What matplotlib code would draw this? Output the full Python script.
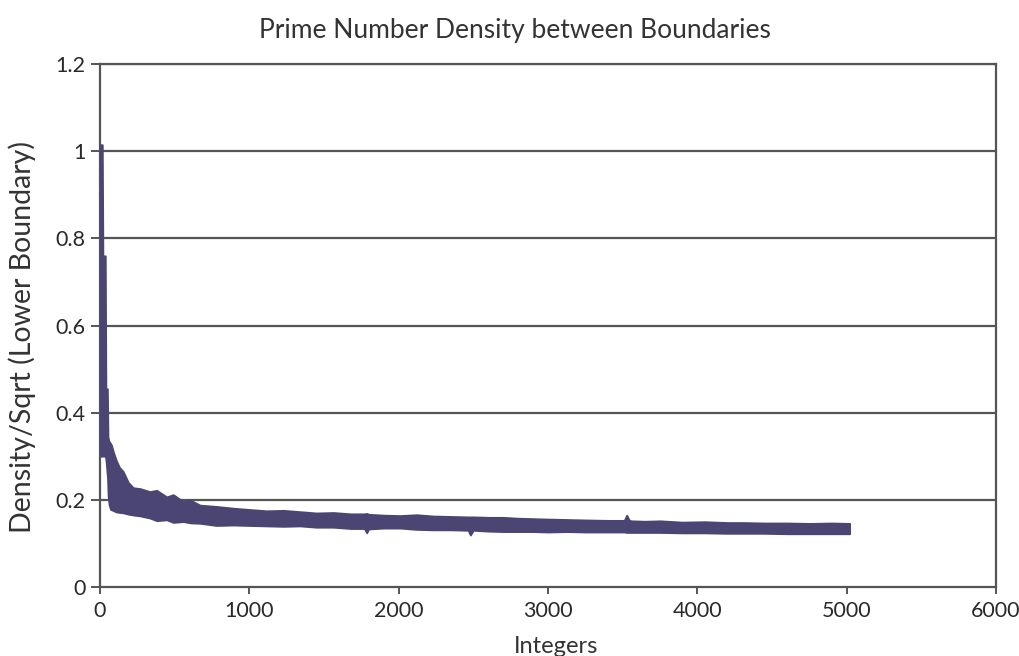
import matplotlib
matplotlib.use("Agg")
import matplotlib.pyplot as plt
import numpy as np

# Envelope of the dense density series
x_int = [0, 4, 16, 20, 36, 40, 50, 54, 60, 70, 78, 90, 110, 130, 156, 190, 223,
         268, 335, 380, 447, 491, 558, 603, 670, 780, 893, 1000, 1117, 1230,
         1340, 1450, 1563, 1680, 1770, 1786, 1800, 1900, 2010, 2120, 2233, 2350,
         2465, 2480, 2500, 2600, 2700, 2800, 2900, 3000, 3126, 3250, 3400, 3510,
         3527, 3545, 3560, 3650, 3751, 3900, 4050, 4200, 4308, 4450, 4600, 4750,
         4900, 5020]
upper = [0.95, 1.015, 1.015, 0.76, 0.76, 0.455, 0.455, 0.345, 0.335, 0.33, 0.325,
         0.31, 0.29, 0.275, 0.265, 0.24, 0.228, 0.226, 0.219, 0.222, 0.207,
         0.212, 0.196, 0.200, 0.188, 0.185, 0.181, 0.178, 0.175, 0.176, 0.173,
         0.170, 0.171, 0.168, 0.168, 0.169, 0.167, 0.165, 0.164, 0.166, 0.163,
         0.162, 0.161, 0.161, 0.161, 0.160, 0.160, 0.158, 0.157, 0.156, 0.155,
         0.154, 0.153, 0.153, 0.165, 0.153, 0.152, 0.151, 0.152, 0.149, 0.150,
         0.148, 0.148, 0.147, 0.147, 0.146, 0.147, 0.146]
lower = [0.30, 0.30, 0.30, 0.30, 0.30, 0.29, 0.25, 0.21, 0.19, 0.178, 0.177,
         0.175, 0.172, 0.171, 0.170, 0.167, 0.165, 0.163, 0.158, 0.152, 0.154,
         0.148, 0.150, 0.147, 0.146, 0.141, 0.142, 0.141, 0.140, 0.139, 0.140,
         0.137, 0.137, 0.134, 0.134, 0.124, 0.133, 0.135, 0.135, 0.132, 0.131,
         0.131, 0.130, 0.119, 0.130, 0.128, 0.127, 0.127, 0.127, 0.126, 0.127,
         0.126, 0.126, 0.126, 0.125, 0.125, 0.125, 0.125, 0.125, 0.124, 0.124,
         0.123, 0.123, 0.123, 0.122, 0.122, 0.122, 0.122]

x_ticks = [0, 1000, 2000, 3000, 4000, 5000, 6000]
y_ticks = [0, 0.2, 0.4, 0.6, 0.8, 1.0, 1.2]
y_tick_labels = ["0", "0.2", "0.4", "0.6", "0.8", "1", "1.2"]

title = "Prime Number Density between Boundaries"
x_label = "Integers"
y_label = "Density/Sqrt (Lower Boundary)"

FONT = "Lato"
GRID = "#555555"
BAND = "#4a4572"

fig = plt.figure(figsize=(10.2, 6.56), dpi=100)
fig.patch.set_facecolor("white")
ax = fig.add_axes([0.098, 0.1052, 0.8785, 0.7972])

ax.fill_between(x_int, lower, upper, color=BAND, linewidth=1.2,
                edgecolor=BAND, zorder=3)

ax.set_xlim(0, 6000)
ax.set_ylim(0, 1.2)
ax.set_xticks(x_ticks)
ax.set_yticks(y_ticks)
ax.set_yticklabels(y_tick_labels)

for y in y_ticks[1:]:
    ax.axhline(y, color=GRID, linewidth=1.6, zorder=1)

for s in ["left", "right", "top", "bottom"]:
    ax.spines[s].set_color(GRID)
    ax.spines[s].set_linewidth(1.6)

ax.tick_params(axis="y", direction="out", length=6.5, width=1.4, color=GRID,
               pad=4, labelsize=15.5, labelcolor="#2a2a2a")
ax.tick_params(axis="x", direction="out", length=5, width=1.4, color=GRID,
               pad=5, labelsize=15.5, labelcolor="#2a2a2a")
for lab in ax.get_xticklabels() + ax.get_yticklabels():
    lab.set_fontfamily(FONT)

fig.text(0.505, 0.954, title, ha="center", va="center", fontsize=19,
         color="#333333", family=FONT)
fig.text(0.545, 0.014, x_label, ha="center", va="center", fontsize=17,
         color="#333333", family=FONT)
fig.text(0.022, 0.487, y_label, ha="center", va="center", rotation=90,
         fontsize=20.5, color="#333333", family=FONT)

fig.savefig("out.png", dpi=100, facecolor="white")
